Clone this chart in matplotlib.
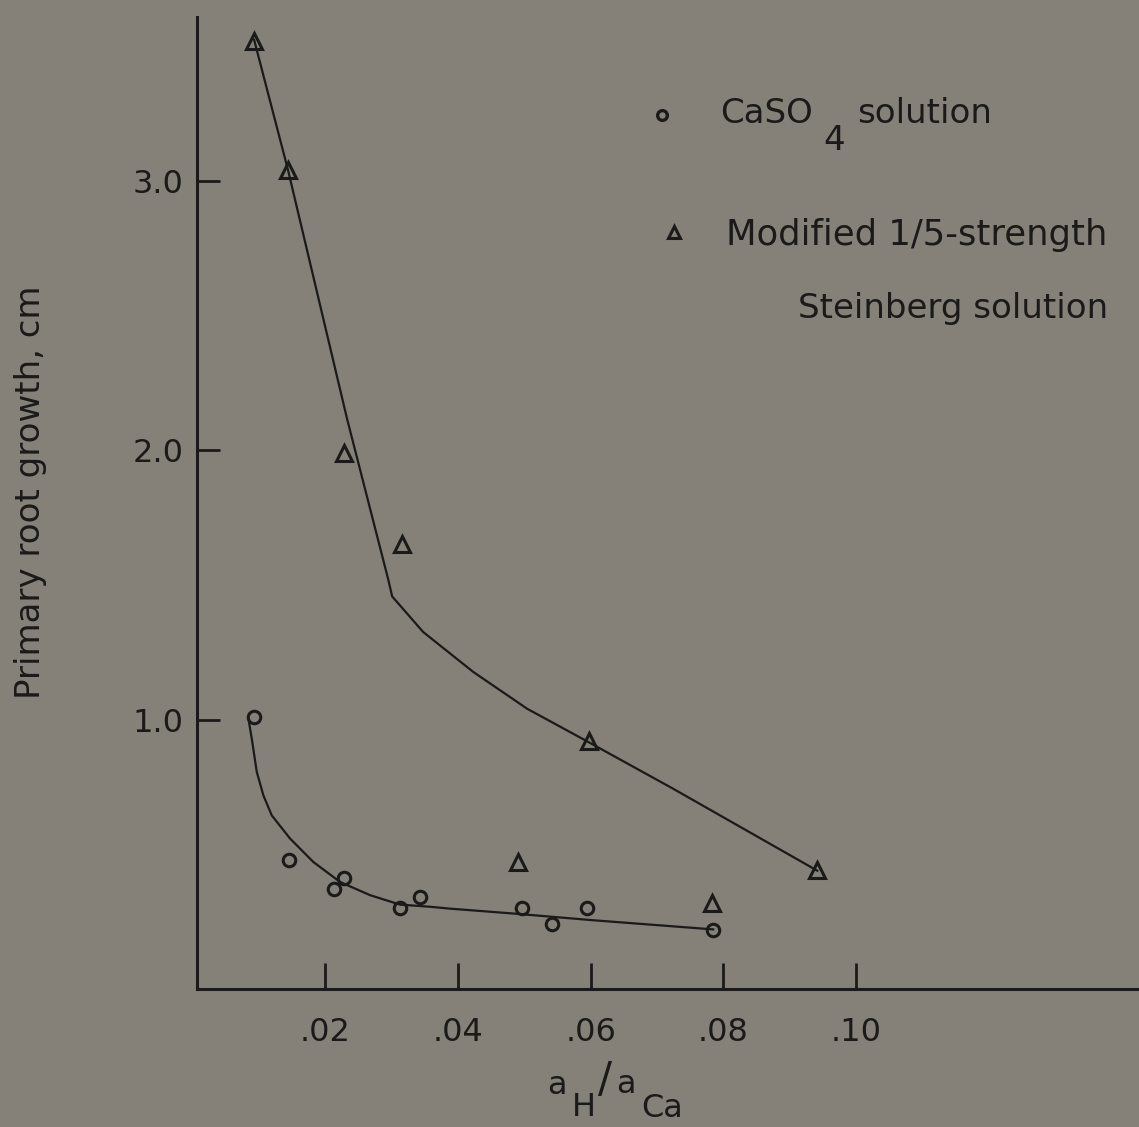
"""Primary root growth vs. H/Ca activity ratio for two nutrient solutions."""

import matplotlib
matplotlib.use("Agg")
import matplotlib.pyplot as plt

# Measured points, CaSO4 solution (circles)
CASO4_X = [0.0093, 0.0146, 0.0214, 0.0228, 0.0313, 0.0343, 0.0496, 0.0542, 0.0595, 0.0785]
CASO4_Y = [1.01, 0.48, 0.37, 0.41, 0.30, 0.34, 0.30, 0.24, 0.30, 0.22]

# Measured points, modified 1/5-strength Steinberg solution (triangles)
STEIN_X = [0.0093, 0.0144, 0.0228, 0.0315, 0.0491, 0.0597, 0.0783, 0.0941]
STEIN_Y = [3.52, 3.04, 1.99, 1.65, 0.47, 0.92, 0.32, 0.44]

# Hand-drawn fit curves
CASO4_FIT_X = [0.00844, 0.00895, 0.00970, 0.01070, 0.01196, 0.01472, 0.01823, 0.02225,
               0.02677, 0.03129, 0.03581, 0.03882, 0.04832, 0.06037, 0.07845]
CASO4_FIT_Y = [1.003, 0.928, 0.805, 0.718, 0.644, 0.558, 0.471, 0.397,
               0.348, 0.313, 0.305, 0.298, 0.280, 0.255, 0.221]
STEIN_FIT_X = [0.0093, 0.01442, 0.02331, 0.02950, 0.03009, 0.03476, 0.04229, 0.05043,
               0.05962, 0.07243, 0.09413]
STEIN_FIT_Y = [3.523, 3.038, 2.115, 1.520, 1.457, 1.325, 1.177, 1.040,
               0.917, 0.743, 0.439]

X_TICKS = [0.02, 0.04, 0.06, 0.08, 0.10]
X_TICK_LABELS = [".02", ".04", ".06", ".08", ".10"]
Y_TICKS = [1.0, 2.0, 3.0]
Y_TICK_LABELS = ["1.0", "2.0", "3.0"]

BG = "#858179"
INK = "#1b1a19"
W, H = 1139, 1127

plt.rcParams["font.family"] = ["DejaVu Sans"]


def fx(px):
    return px / W


def fy(py):
    return 1 - py / H


fig = plt.figure(figsize=(W / 100, H / 100), dpi=100, facecolor=BG)
ax = fig.add_axes([0.173, 0.1225, 0.827, 0.8625], facecolor=BG)

ax.plot(STEIN_FIT_X, STEIN_FIT_Y, color=INK, lw=1.6, solid_joinstyle="round")
ax.plot(CASO4_FIT_X, CASO4_FIT_Y, color=INK, lw=1.6, solid_joinstyle="round")
ax.plot(STEIN_X, STEIN_Y, linestyle="none", marker="^", ms=11, mfc="none",
        mec=INK, mew=2.2, clip_on=False)
ax.plot(CASO4_X, CASO4_Y, linestyle="none", marker="o", ms=9, mfc="none",
        mec=INK, mew=2.2, clip_on=False)

ax.set_xlim(0.0007, 0.1426)
ax.set_ylim(0.0, 3.608)

for side in ("top", "right"):
    ax.spines[side].set_visible(False)
for side in ("left", "bottom"):
    ax.spines[side].set_linewidth(2.2)
    ax.spines[side].set_color(INK)

ax.set_xticks(X_TICKS)
ax.set_xticklabels(X_TICK_LABELS)
ax.set_yticks(Y_TICKS)
ax.set_yticklabels(Y_TICK_LABELS)
ax.tick_params(axis="x", direction="in", length=19, width=2.0, color=INK,
               labelsize=23, labelcolor=INK, pad=20)
ax.tick_params(axis="y", direction="in", length=16.5, width=2.0, color=INK,
               labelsize=23, labelcolor=INK, pad=10)

fig.text(fx(31), fy(492), "Primary root growth, cm", rotation=90, fontsize=24.5,
         color=INK, ha="center", va="center")

# x-axis label: a_H / a_Ca with raised activity symbols
lab = dict(color=INK, fontsize=23, ha="left", va="baseline")
fig.text(fx(547), fy(1094), "a", **lab)
fig.text(fx(572), fy(1116), "H", **lab)
fig.text(fx(605), fy(1080), "/", color=INK, fontsize=30, ha="center", va="center")
fig.text(fx(616), fy(1093), "a", **lab)
fig.text(fx(641), fy(1117), "Ca", **lab)

# legend drawn in data coordinates
ax.plot([0.0708], [3.245], marker="o", ms=7, mfc="none", mec=INK, mew=2.4, clip_on=False)
ax.plot([0.0726], [2.808], marker="^", ms=9, mfc="none", mec=INK, mew=2.2, clip_on=False)
leg = dict(color=INK, fontsize=24.5, va="baseline", clip_on=False)
ax.text(0.0795, 3.215, "CaSO", ha="left", **leg)
ax.text(0.0950, 3.115, "4", ha="left", **leg)
ax.text(0.1001, 3.215, "solution", ha="left", **leg)
ax.text(0.0804, 2.763, "Modified 1/5-strength", ha="left", fontsize=25.5,
        color=INK, va="baseline", clip_on=False)
ax.text(0.1380, 2.492, "Steinberg solution", ha="right", **leg)

fig.savefig("out.png", dpi=100, facecolor=BG)
